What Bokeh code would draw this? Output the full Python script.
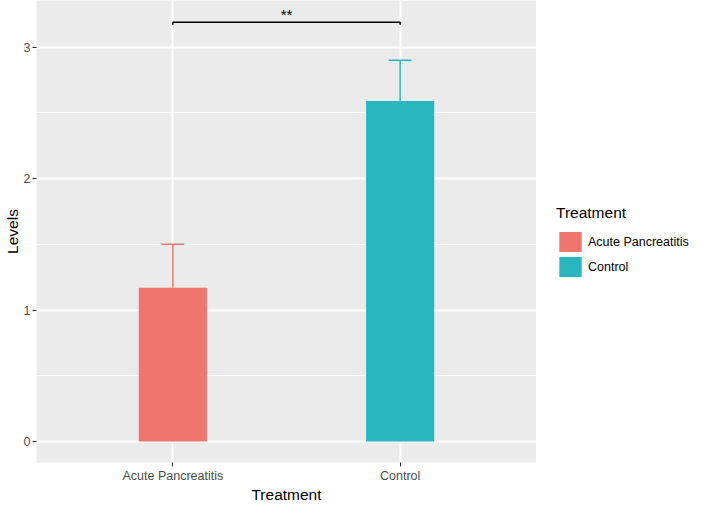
from bokeh.plotting import figure
from bokeh.layouts import row
from bokeh.models import ColumnDataSource, Range1d, FixedTicker, Legend, LegendItem
from bokeh.core.properties import value
from bokeh.embed import file_html
from bokeh.resources import INLINE

# ---- data ----
treatments = ["Acute Pancreatitis", "Control"]
levels = [1.17, 2.59]          # bar heights (mean)
upper = [1.50, 2.90]           # top of error bars
colors = ["#EE766E", "#29B6BF"]
y_ticks = [0, 1, 2, 3]
y_minor = [0.5, 1.5, 2.5]
bracket_y = 3.19
bracket_tip = 3.17
signif = "**"
legend_title = "Treatment"
x_title = "Treatment"
y_title = "Levels"

FONT = "Liberation Sans"
BAR_W = 0.3
CAP_W = 0.1
H = 505

xs = list(range(1, len(treatments) + 1))
src = ColumnDataSource(dict(
    x=xs, top=levels, upper=upper, color=colors, label=treatments,
    cap0=[x - CAP_W / 2 for x in xs], cap1=[x + CAP_W / 2 for x in xs],
))

p = figure(width=536, height=H, output_backend="svg", toolbar_location=None,
           x_range=Range1d(0.4, 2.6), y_range=Range1d(-0.16, 3.355),
           min_border_top=0, min_border_right=0, min_border_left=0, min_border_bottom=0)
p.background_fill_color = "#EBEBEB"
p.border_fill_color = "white"
p.outline_line_color = None

# grids
p.xaxis.ticker = FixedTicker(ticks=xs)
p.yaxis.ticker = FixedTicker(ticks=y_ticks, minor_ticks=y_minor)
p.xgrid.grid_line_color = "white"
p.xgrid.grid_line_width = 2
p.ygrid.grid_line_color = "white"
p.ygrid.grid_line_width = 2
p.ygrid.minor_grid_line_color = "white"
p.ygrid.minor_grid_line_width = 1

# axes
p.xaxis.major_label_overrides = {x: t for x, t in zip(xs, treatments)}
for ax in (p.xaxis[0], p.yaxis[0]):
    ax.axis_line_color = None
    ax.major_tick_line_color = "#333333"
    ax.major_tick_out = 4
    ax.major_tick_in = 0
    ax.minor_tick_line_color = None
    ax.major_label_text_font = FONT
    ax.major_label_text_font_size = "12.5px"
    ax.major_label_text_color = "#4D4D4D"
    ax.major_label_standoff = 2
    ax.axis_label_text_font = FONT
    ax.axis_label_text_font_size = "15.5px"
    ax.axis_label_text_font_style = "normal"
    ax.axis_label_text_color = "black"
    ax.axis_label_standoff = 0
p.xaxis.axis_label = x_title
p.yaxis.axis_label = y_title

# bars and error bars
p.vbar(x="x", top="top", bottom=0, width=BAR_W, fill_color="color",
       line_color=None, source=src)
p.segment(x0="x", y0="top", x1="x", y1="upper", line_color="color",
          line_width=1.5, source=src)
p.segment(x0="cap0", y0="upper", x1="cap1", y1="upper", line_color="color",
          line_width=1.5, source=src)

# significance bracket
p.line(x=[xs[0], xs[0], xs[1], xs[1]],
       y=[bracket_tip, bracket_y, bracket_y, bracket_tip],
       line_color="black", line_width=1.5)
p.text(x=[(xs[0] + xs[1]) / 2], y=[bracket_y + 0.06], text=[signif],
       text_font=value(FONT), text_font_size="15px", text_align="center",
       text_baseline="middle", text_color="black")

# ---- legend panel (separate narrow figure to the right) ----
lg = figure(width=156, height=H, output_backend="svg", toolbar_location=None,
            x_axis_type=None, y_axis_type=None,
            x_range=Range1d(0, 1), y_range=Range1d(0, 1),
            min_border_top=0, min_border_right=0, min_border_left=0, min_border_bottom=0)
lg.outline_line_color = None
lg.background_fill_color = "white"
lg.border_fill_color = "white"
# legend swatches use the same data; placed outside the visible range
lsrc = ColumnDataSource(dict(x=[x + 10 for x in xs], top=levels, color=colors))
key = lg.vbar(x="x", top="top", bottom=0, width=BAR_W, fill_color="color",
              line_color=None, source=lsrc)

legend = Legend(
    items=[LegendItem(label=t, renderers=[key], index=i) for i, t in enumerate(treatments)],
    location=(20, 183), title=legend_title,
    title_text_font=FONT, title_text_font_size="15.5px", title_text_font_style="normal",
    title_text_color="black", title_standoff=7,
    label_text_font=FONT, label_text_font_size="12.5px", label_text_color="black",
    glyph_width=28, glyph_height=25, label_height=25, spacing=0, label_standoff=4,
    padding=0, margin=0, border_line_color=None, background_fill_alpha=0,
)
lg.add_layout(legend, "center")

layout = row(p, lg)
open("out.html", "w").write(file_html(layout, INLINE))
